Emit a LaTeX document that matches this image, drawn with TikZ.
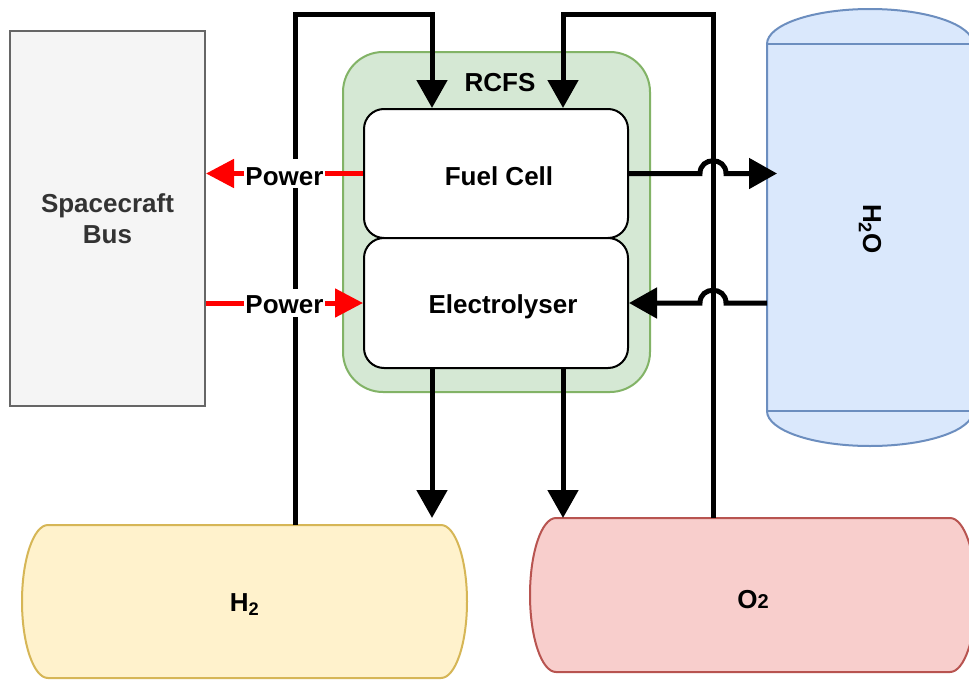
\documentclass[tikz,border=0pt]{standalone}
\usepackage{fontspec}
\setmainfont{Liberation Sans}
\usetikzlibrary{arrows.meta}
\definecolor{busfill}{HTML}{F5F5F5}
\definecolor{busline}{HTML}{666666}
\definecolor{bustext}{HTML}{333333}
\definecolor{grfill}{HTML}{D5E8D4}
\definecolor{grline}{HTML}{82B366}
\definecolor{blfill}{HTML}{DAE8FC}
\definecolor{blline}{HTML}{6C8EBF}
\definecolor{yefill}{HTML}{FFF2CC}
\definecolor{yeline}{HTML}{D6B656}
\definecolor{rdfill}{HTML}{F8CECC}
\definecolor{rdline}{HTML}{B85450}
\newcommand{\lowr}[2]{\raisebox{-#1}[\height][\depth]{#2}}
\tikzset{
  lbl/.style={font=\bfseries\fontsize{26}{31}\selectfont},
  busbox/.style={lbl, draw=busline, fill=busfill, text=bustext, line width=2pt, align=center, inner sep=0pt},
  rcfsbox/.style={draw=grline, fill=grfill, line width=2pt, rounded corners=40pt, inner sep=0pt},
  cellbox/.style={lbl, draw=black, fill=white, line width=2pt, rounded corners=20pt, inner sep=0pt},
  tanktext/.style={lbl, inner sep=0pt, outer sep=0pt},
  flow/.style={draw=black, line width=5pt, -{Triangle[length=28pt,width=30pt]}},
  pwr/.style={draw=red, color=red, line width=5pt, -{Triangle[length=28pt,width=28pt]}},
  pwrlbl/.style={lbl, text=black, fill=white, inner xsep=1pt, inner ysep=5pt}
}
\begin{document}
\begin{tikzpicture}[x=1pt,y=-1pt]
\useasboundingbox (0,0) rectangle (969,680);
\fill[white] (0,0) rectangle (969,680);
\clip (0,0) rectangle (969,680);

% boxes
\node[busbox, minimum width=195pt, minimum height=375pt] (bus) at (107.5,218.5) {\lowr{3pt}{\begin{tabular}{@{}c@{}}Spacecraft\\Bus\end{tabular}}};
\node[rcfsbox, minimum width=307pt, minimum height=340pt] (rcfs) at (496.5,222) {};
\node[lbl] (rcfslbl) at (500,83) {RCFS};
\node[cellbox, minimum width=264pt, minimum height=129pt] (fc) at (496,173.5) {\lowr{3pt}{\hspace*{6pt}Fuel Cell}};
\node[cellbox, minimum width=264pt, minimum height=130pt] (el) at (496,303) {\lowr{4pt}{\hspace*{14pt}Electrolyser}};

% tanks
\path[draw=blline, fill=blfill, line width=2pt]
  (767,44) arc[start angle=180, end angle=0, x radius=103pt, y radius=35pt]
  -- (973,411) arc[start angle=0, end angle=-180, x radius=103pt, y radius=35pt] -- cycle;
\draw[blline, line width=2pt] (767,44) -- (973,44) (767,411) -- (973,411);
\path[draw=yeline, fill=yefill, line width=2pt]
  (48,525) -- (441,525) arc[start angle=90, end angle=-90, x radius=26pt, y radius=76.5pt]
  -- (48,678) arc[start angle=270, end angle=90, x radius=26pt, y radius=76.5pt] -- cycle;
\path[draw=rdline, fill=rdfill, line width=2pt]
  (556,518) -- (950,518) arc[start angle=90, end angle=-90, x radius=26pt, y radius=77pt]
  -- (556,672) arc[start angle=270, end angle=90, x radius=26pt, y radius=77pt] -- cycle;
\node[tanktext, minimum width=445pt, minimum height=153pt] (h2) at (244.5,601.5) {\lowr{3pt}{H\textsubscript{2}}};
\node[tanktext, minimum width=446pt, minimum height=154pt] (o2) at (753,595) {\lowr{5pt}{O{\fontsize{20}{20}\selectfont 2}}};
\node[tanktext, rotate=-90] (h2o) at (870,229) {H\textsubscript{2}O};

% helper coordinates
\coordinate (topy) at (0,14);
\coordinate (h2up) at ([xshift=50.5pt]h2.north);
\coordinate (o2up) at ([xshift=-40pt]o2.north);
\coordinate (fcH) at ([xshift=-64pt]fc.north);
\coordinate (fcO) at ([xshift=67pt]fc.north);
\coordinate (elH) at ([xshift=-64pt]el.south);
\coordinate (elO) at ([xshift=67pt]el.south);
\coordinate (h2oA) at (777,173.5);
\coordinate (h2oB) at (767,303);

% flows
\draw[flow] (h2up) -- (h2up |- topy) -| (fcH);
\draw[flow] (o2up) -- (o2up |- topy) -| (fcO);
\draw[flow] (elH) -- (elH |- o2.north);
\draw[flow] (elO) -- (elO |- o2.north);
\draw[flow] (fc.east) -- (700,173.5) .. controls (700,156.5) and (726,156.5) .. (726,173.5) -- (h2oA);
\draw[flow] (h2oB) -- (726,303) .. controls (726,286) and (700,286) .. (700,303) -- (el.east);

% power
\draw[pwr] (fc.west) -- node[pwrlbl] {\lowr{3pt}{Power}} (fc.west -| bus.east);
\draw[pwr] (el.west -| bus.east) -- node[pwrlbl] {\lowr{2pt}{Power}} (el.west);
\end{tikzpicture}
\end{document}
